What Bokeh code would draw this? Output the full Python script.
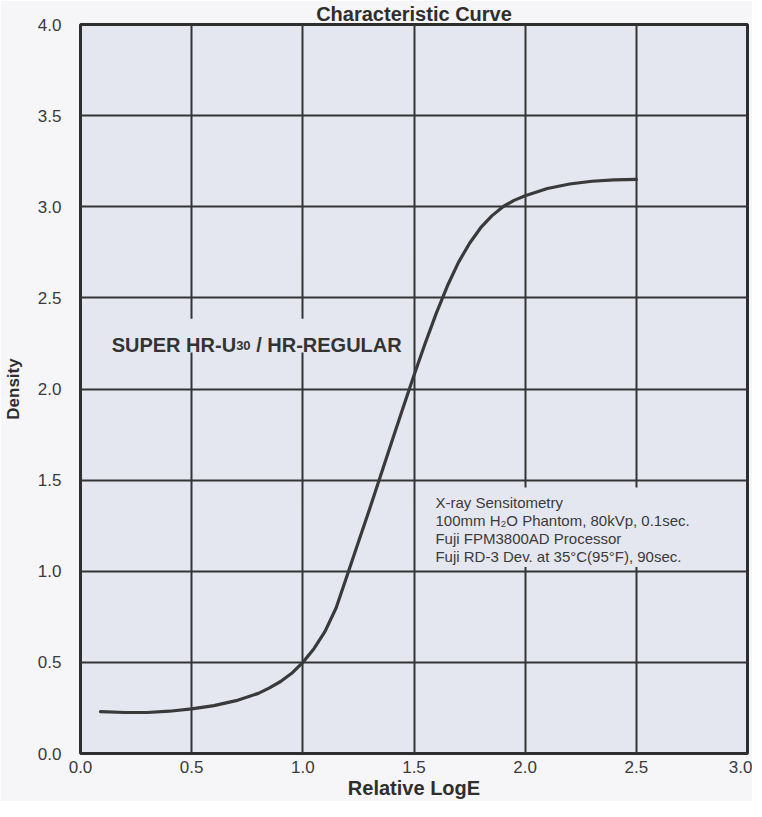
from bokeh.plotting import figure
from bokeh.models import Range1d, FixedTicker, Label, BoxAnnotation
from bokeh.embed import file_html
from bokeh.resources import INLINE

# ---- data ----
log_e = [0.09, 0.20, 0.30, 0.40, 0.50, 0.60, 0.70, 0.80, 0.85, 0.90, 0.95,
         1.00, 1.05, 1.10, 1.15, 1.20, 1.25, 1.30, 1.35, 1.40, 1.45, 1.50, 1.55,
         1.60, 1.65, 1.70, 1.75, 1.80, 1.85, 1.90, 1.95, 2.00, 2.10, 2.20, 2.30,
         2.40, 2.50]
density = [0.23, 0.225, 0.225, 0.232, 0.245, 0.263, 0.29, 0.33, 0.36, 0.395, 0.44,
           0.50, 0.575, 0.67, 0.80, 0.98, 1.16, 1.34, 1.525, 1.71, 1.895, 2.075, 2.25,
           2.415, 2.565, 2.695, 2.80, 2.885, 2.95, 3.00, 3.035, 3.06, 3.10, 3.125, 3.14,
           3.147, 3.15]

x_ticks = [0.0, 0.5, 1.0, 1.5, 2.0, 2.5, 3.0]
x_tick_labels = ["0.0", "0.5", "1.0", "1.5", "2.0", "2.5", "3.0"]
y_ticks = [0.0, 0.5, 1.0, 1.5, 2.0, 2.5, 3.0, 3.5, 4.0]
y_tick_labels = ["0.0", "0.5", "1.0", "1.5", "2.0", "2.5", "3.0", "3.5", "4.0"]

title_text = "Characteristic Curve"
x_label = "Relative LogE"
y_label = "Density"
product_parts = ["SUPER HR-U", "30", "/ HR-REGULAR"]
conditions = ["X-ray Sensitometry",
              "100mm H\u2082O Phantom, 80kVp, 0.1sec.",
              "Fuji FPM3800AD Processor",
              "Fuji RD-3 Dev. at 35\u00b0C(95\u00b0F), 90sec."]

FONT = "Liberation Sans"
PLOT_BG = "#e5e7f0"
PAGE_BG = "#f6f6f8"
INK = "#2e2e2e"

p = figure(width=752, height=801,
           x_range=Range1d(0, 3), y_range=Range1d(0, 4),
           output_backend="svg", toolbar_location=None,
           min_border_left=70, min_border_right=5,
           min_border_top=0, min_border_bottom=0,
           background_fill_color=PLOT_BG, border_fill_color=PAGE_BG,
           title=title_text)

p.title.text_font = FONT
p.title.text_font_size = "20px"
p.title.text_font_style = "bold"
p.title.text_color = INK
p.title.align = "center"
p.title.standoff = 0
p.title.offset = 0

p.outline_line_color = INK
p.outline_line_width = 3

for ax, ticks, labels in ((p.xaxis, x_ticks, x_tick_labels), (p.yaxis, y_ticks, y_tick_labels)):
    ax.ticker = FixedTicker(ticks=ticks)
    ax.major_label_overrides = {t: l for t, l in zip(ticks, labels)}
    ax.axis_line_color = None
    ax.major_tick_line_color = None
    ax.minor_tick_line_color = None
    ax.major_tick_out = 0
    ax.major_tick_in = 0
    ax.minor_tick_out = 0
    ax.minor_tick_in = 0
    ax.major_label_text_font = FONT
    ax.major_label_text_font_size = "17px"
    ax.major_label_text_color = "#3a3a3a"
    ax.axis_label_text_font = FONT
    ax.axis_label_text_font_style = "bold"
    ax.axis_label_text_color = INK

p.xaxis.axis_label = x_label
p.xaxis.axis_label_text_font_size = "20px"
p.xaxis.major_label_standoff = 7
p.xaxis.axis_label_standoff = 1
p.yaxis.axis_label = y_label
p.yaxis.axis_label_text_font_size = "17px"
p.yaxis.major_label_standoff = 19
p.yaxis.axis_label_standoff = 12

p.xgrid.ticker = FixedTicker(ticks=x_ticks)
p.ygrid.ticker = FixedTicker(ticks=y_ticks)
for g in (p.xgrid, p.ygrid):
    g.grid_line_color = "#343434"
    g.grid_line_width = 2
    g.grid_line_alpha = 1.0

p.line(log_e, density, line_color="#3a3a3a", line_width=3.2,
       line_cap="round", line_join="round")

# paper patch behind the product name (hides the grid lines there)
p.add_layout(BoxAnnotation(left=0.11, right=1.46, bottom=2.20, top=2.385,
                           fill_color=PLOT_BG, fill_alpha=1.0, line_color=None))

# product name with small "30"
lbl_x, lbl_y = 0.14, 2.24
offsets = [0, 124.5, 144.5]
sizes = ["20px", "13px", "20px"]
for part, off, sz in zip(product_parts, offsets, sizes):
    p.add_layout(Label(x=lbl_x, y=lbl_y, x_offset=off, text=part,
                       text_font=FONT, text_font_size=sz, text_font_style="bold",
                       text_color="#333333", text_baseline="alphabetic"))

# exposure conditions block
p.add_layout(Label(x=1.565, y=1.46, text="\n".join(conditions),
                   text_font=FONT, text_font_size="15px", text_color="#3a3a3a",
                   text_baseline="top", text_line_height=1.05,
                   background_fill_color=PLOT_BG,
                   padding=dict(left=7, right=7, top=7, bottom=2)))

open("out.html", "w").write(file_html(p, INLINE))
